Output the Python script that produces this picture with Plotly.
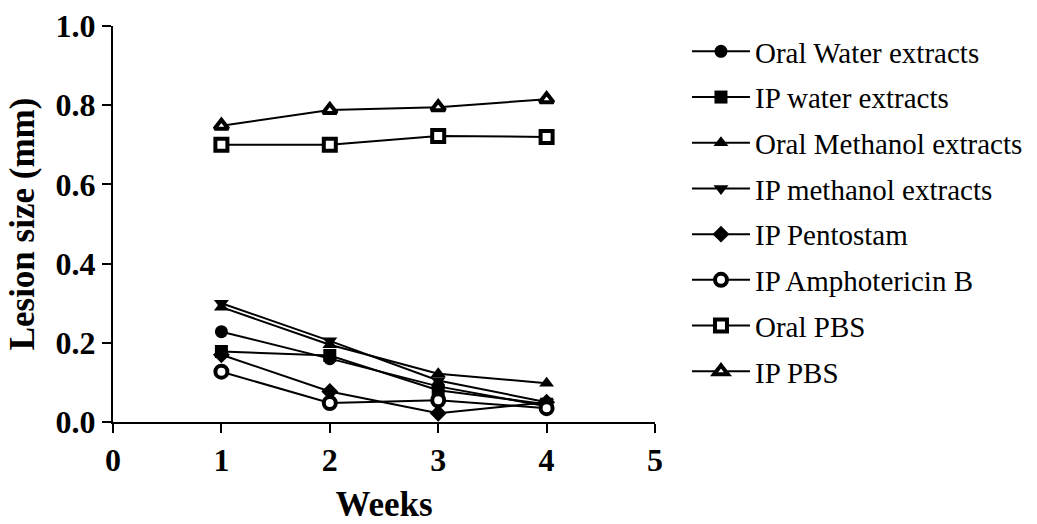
import plotly.graph_objects as go

weeks = [1, 2, 3, 4]
series_names = [
    "Oral Water extracts",
    "IP water extracts",
    "Oral Methanol extracts",
    "IP methanol extracts",
    "IP Pentostam",
    "IP Amphotericin B",
    "Oral PBS",
    "IP PBS",
]
oral_water = [0.228, 0.160, 0.090, 0.040]
ip_water = [0.178, 0.168, 0.080, 0.045]
oral_methanol = [0.290, 0.195, 0.122, 0.098]
ip_methanol = [0.300, 0.205, 0.105, 0.050]
ip_pentostam = [0.170, 0.077, 0.022, 0.050]
ip_amphotericin = [0.127, 0.048, 0.055, 0.035]
oral_pbs = [0.700, 0.700, 0.722, 0.720]
ip_pbs = [0.748, 0.788, 0.795, 0.815]

values = [oral_water, ip_water, oral_methanol, ip_methanol,
          ip_pentostam, ip_amphotericin, oral_pbs, ip_pbs]
symbols = ["circle", "square", "triangle-up", "triangle-down",
           "diamond", "circle", "square", "triangle-up"]
open_marker = [False, False, False, False, False, True, True, True]
x_ticks = [0, 1, 2, 3, 4, 5]
y_ticks = [0.0, 0.2, 0.4, 0.6, 0.8, 1.0]

fig = go.Figure()
for i, (name, vals, sym, op) in enumerate(zip(series_names, values, symbols, open_marker)):
    fig.add_trace(go.Scatter(
        x=weeks, y=vals, name=name, mode="lines+markers",
        legendgroup=f"g{i}",
        line=dict(color="black", width=2),
        marker=dict(symbol=sym, size=13 if not op else 12,
                    color="white" if op else "black",
                    line=dict(color="black", width=4 if op else 0)),
        cliponaxis=False,
    ))

font_family = "Liberation Serif"
fig.update_layout(
    width=1037, height=524,
    margin=dict(l=113, r=382, t=26, b=102, autoexpand=False),
    plot_bgcolor="white", paper_bgcolor="white",
    font=dict(family=font_family, color="black"),
    showlegend=True,
    legend=dict(
        x=1.059, y=1.0, xanchor="left", yanchor="top",
        font=dict(family=font_family, size=29, color="black"),
        tracegroupgap=5, itemwidth=58,
        bgcolor="rgba(0,0,0,0)",
    ),
    xaxis=dict(
        range=[0, 5], tickvals=x_ticks, ticktext=[str(v) for v in x_ticks],
        showline=True, linecolor="black", linewidth=2,
        ticks="outside", ticklen=9, tickwidth=2, tickcolor="black",
        showgrid=False, zeroline=False, automargin=False,
        tickfont=dict(family=font_family, size=32, color="black", weight="bold"),
        title=dict(text="<b>Weeks</b>", font=dict(family=font_family, size=35, color="black"),
                   standoff=45),
    ),
    yaxis=dict(
        range=[0, 1], tickvals=y_ticks, tickformat=".1f",
        showline=True, linecolor="black", linewidth=2,
        ticks="outside", ticklen=9, tickwidth=2, tickcolor="black",
        showgrid=False, zeroline=False, automargin=False,
        tickfont=dict(family=font_family, size=32, color="black", weight="bold"),
        title=dict(text="<b>Lesion size (mm)</b>", font=dict(family=font_family, size=35, color="black"),
                   standoff=10),
    ),
)

fig.write_html("out.html")
